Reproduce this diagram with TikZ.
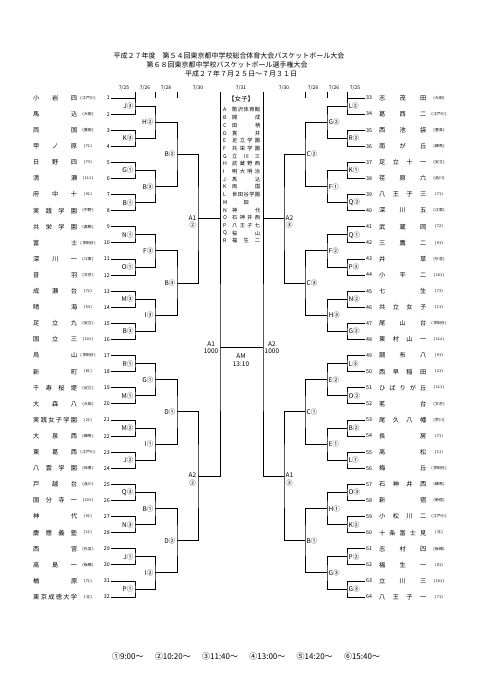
\documentclass[tikz,border=0pt]{standalone}
\usepackage{fontspec}
\setmainfont{Noto Sans CJK JP}
\usetikzlibrary{positioning}

% spread the characters of a name over a fixed width
\newcommand\spreadname[2][44pt]{\makebox[#1][s]{\expandafter\spreadloop#2\relax}}
\def\spreadloop#1{\ifx\relax#1\unskip\else#1\hfill\expandafter\spreadloop\fi}

\tikzset{
  bline/.style={line width=1pt},
  teamname/.style={font=\fontsize{6.2}{7}\selectfont, inner sep=0pt},
  ward/.style={font=\fontsize{3.8}{4}\selectfont, inner sep=0pt},
  seed/.style={font=\fontsize{5.3}{6}\selectfont, inner sep=0pt},
  court/.style={font=\fontsize{6.5}{7.5}\selectfont, inner sep=0pt},
  court2/.style={court, align=center},
  daylab/.style={font=\fontsize{5}{6}\selectfont, inner sep=0pt},
  venue/.style={font=\fontsize{5.2}{6}\selectfont, inner sep=0pt},
  headline/.style={font=\fontsize{7}{8}\selectfont, inner sep=0pt},
}

\begin{document}
\begin{tikzpicture}[x=1pt, y=-1pt]

% Background / page size
\fill[white] (0,0) rectangle (481,680);
\useasboundingbox (0,0) rectangle (481,680);

% Title
\node[headline] (title1) at (229,56)
  {平成２７年度　第５４回東京都中学校総合体育大会バスケットボール大会};
\node[headline] (title2) at (227,65)
  {第６８回東京都中学校バスケットボール選手権大会};
\node[headline] (title3) at (241,74)
  {平成２７年７月２５日～７月３１日};

% Dates of each round
\foreach \dx/\dd in {124/25, 145/26, 166/28, 198/30, 241/31, 284/30, 313/28, 334/26, 355/25}
  \node[daylab] (day\dx) at (\dx,88) {7/\dd};

% short marks under the dates
\foreach \tx in {135,155,177,305,327,347}{
  \coordinate (tickA\tx) at (\tx,92);
  \coordinate (tickB\tx) at (\tx,98);
  \draw[bline] (tickA\tx) -- (tickB\tx);
}

% === Left half: teams 1-32 ===
\foreach \s/\w [count=\i] in {小岩四/江戸川, 馬込/大田, 両国/墨田, 甲ノ原/71,
    日野四/73, 清瀬/111, 府中十/91, 実践学園/中野, 共栄学園/葛飾, 富士/世田谷,
    深川一/江東, 音羽/文京, 成瀬台/72, 晴海/53, 足立九/足立, 国立三/101,
    烏山/世田谷, 新町/81, 千寿桜堤/足立, 大森八/大田, 実践女子学園/21, 大泉西/練馬,
    東葛西/江戸川, 八雲学園/目黒, 戸越台/品川, 国分寺一/101, 神代/91, 慶應義塾/11,
    西宮/杉並, 高島一/板橋, 楢原/71, 東京成徳大学/北}{
  \pgfmathsetmacro\ty{98+(\i-1)*16.1}
  \node[teamname, anchor=west] (nL\i) at (33,\ty) {\spreadname{\s}};
  \node[ward] (wL\i) at (88,\ty) {(\,\w\,)};
  \node[seed, anchor=east] (sL\i) at (110,\ty) {\i};
  \coordinate (L0-\i) at ([xshift=1pt]sL\i.east);
}

% === Right half: teams 33-64 ===
\foreach \s/\w [count=\i] in {志茂田/大田, 葛西二/江戸川, 西池袋/豊島, 南が丘/練馬,
    足立十一/足立, 荏原六/品川, 八王子三/71, 深川五/江東, 武蔵岡/72, 三鷹二/91,
    井草/杉並, 小平二/101, 七生/73, 共立女子/11, 尾山台/世田谷, 東村山一/112,
    調布八/91, 西早稲田/21, ひばりが丘/111, 茗台/文京, 尾久八幡/荒川, 長房/71,
    高松/11, 梅丘/世田谷, 石神井西/練馬, 新宿/新宿, 小松川二/江戸川, 十条富士見/北,
    志村四/板橋, 福生一/81, 立川三/101, 八王子一/71}{
  \pgfmathsetmacro\ty{98+(\i-1)*16.1}
  \pgfmathtruncatemacro\no{\i+32}
  \node[seed, anchor=west] (sR\i) at (366,\ty) {\no};
  \node[teamname, anchor=west] (nR\i) at (379,\ty) {\spreadname[47pt]{\s}};
  \node[ward] (wR\i) at (439,\ty) {(\,\w\,)};
  \coordinate (R0-\i) at ([xshift=-1pt]sR\i.west);
}

% === Brackets, round by round ===
\foreach \r/\xl/\xr in {1/135/347, 2/155/327, 3/177/305, 4/198/284, 5/220/263}{
  \pgfmathtruncatemacro\pr{\r-1}
  \pgfmathtruncatemacro\nm{2^(5-\r)}
  \foreach \k in {1,...,\nm}{
    \pgfmathsetmacro\ym{98+((\k-1)*2^\r+(2^\r-1)/2)*16.1}
    \pgfmathtruncatemacro\ta{2*\k-1}
    \pgfmathtruncatemacro\tb{2*\k}
    \coordinate (L\r-\k) at (\xl,\ym);
    \coordinate (R\r-\k) at (\xr,\ym);
    \draw[bline] (L\pr-\ta) -| (L\r-\k) |- (L\pr-\tb);
    \draw[bline] (R\pr-\ta) -| (R\r-\k) |- (R\pr-\tb);
  }
}

% Court / time labels
\foreach \g [count=\k] in {J③,K③,G①,B①,N①,O①,M③,B③,R①,M①,M②,J②,Q③,N③,J①,P①}
  \node[court, anchor=east] (cL1-\k) at ([xshift=-1.5pt]L1-\k) {\g};
\foreach \g [count=\k] in {H②,B③,F③,I③,G①,I①,B①,I②}
  \node[court, anchor=east] (cL2-\k) at ([xshift=-1.5pt]L2-\k) {\g};
\foreach \g [count=\k] in {B②,B③,D①,D②}
  \node[court, anchor=east] (cL3-\k) at ([xshift=-1.5pt]L3-\k) {\g};
\node[court2, anchor=east] (cL4-1) at ([xshift=-1.5pt, yshift=-3pt]L4-1) {A1\\②};
\node[court2, anchor=east] (cL4-2) at ([xshift=-1.5pt, yshift=-3pt]L4-2) {A2\\②};
\node[court2, anchor=east] (cL5-1) at ([xshift=-1.5pt]L5-1) {A1\\1000};

\foreach \g [count=\k] in {L②,R②,K①,Q②,Q①,P③,N②,G②,L③,O②,B②,L①,O③,K②,P②,G③}
  \node[court, anchor=west] (cR1-\k) at ([xshift=1.5pt]R1-\k) {\g};
\foreach \g [count=\k] in {G②,F①,F②,H③,E②,E①,H①,G③}
  \node[court, anchor=west] (cR2-\k) at ([xshift=1.5pt]R2-\k) {\g};
\foreach \g [count=\k] in {C②,C③,C①,B①}
  \node[court, anchor=west] (cR3-\k) at ([xshift=1.5pt]R3-\k) {\g};
\node[court2, anchor=west] (cR4-1) at ([xshift=1.5pt, yshift=-3pt]R4-1) {A2\\③};
\node[court2, anchor=west] (cR4-2) at ([xshift=1.5pt, yshift=-3pt]R4-2) {A1\\③};
\node[court2, anchor=west] (cR5-1) at ([xshift=1.5pt]R5-1) {A2\\1000};

% Centre column: frame lines and final
\coordinate (topL) at (220,92);
\coordinate (topR) at (263,92);
\draw[bline] (topL) -- (L5-1 |- L4-1);
\draw[bline] (topR) -- (R5-1 |- R4-1);
\draw[bline] (L5-1) -- (R5-1);
\node[court2] (final) at (241,360) {AM\\13:10};

% Venue list
\node[venue, font=\fontsize{6.5}{7}\selectfont] (women) at (241,99) {【女子】};
\foreach \v/\s [count=\i] in {A/駒沢体育館, B/開成, C/田柄, D/貫井, E/足立学園,
    F/共栄学園, G/立川三, H/武蔵野西, I/明大明治, J/馬込, K/両国, L/世田谷学園,
    M/　田　, N/神代, O/石神井西, P/八王子七, Q/桜山, R/福生二}{
  \pgfmathsetmacro\vy{110+(\i-1)*7.7}
  \node[venue, anchor=west] (vl\i) at (223,\vy) {\v};
  \node[venue, anchor=west] (vn\i) at (232,\vy) {\spreadname[28pt]{\s}};
}

% Start times
\node[headline, font=\fontsize{8}{9}\selectfont] (times) at (246,656)
  {\makebox[268pt][s]{①9:00～\hfill②10:20～\hfill③11:40～\hfill④13:00～\hfill⑤14:20～\hfill⑥15:40～}};

\end{tikzpicture}
\end{document}
